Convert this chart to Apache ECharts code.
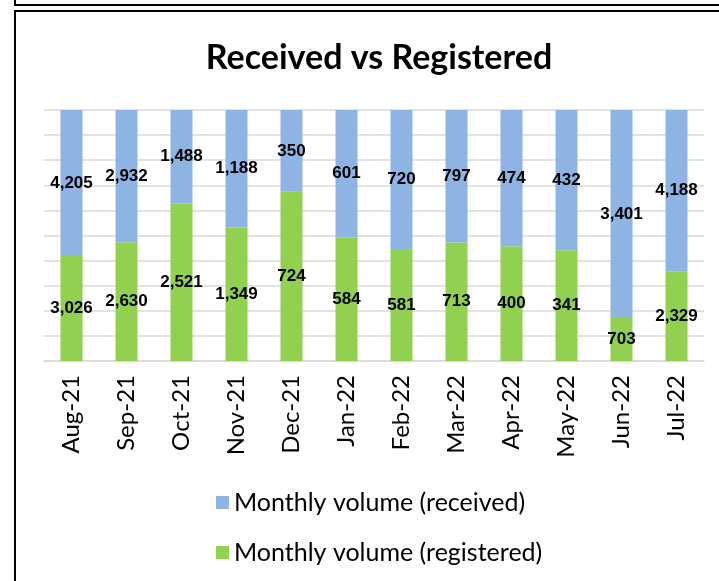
<!DOCTYPE html>
<html>
<head>
<meta charset="utf-8">
<script src="https://cdn.jsdelivr.net/npm/echarts@6/dist/echarts.min.js"></script>
<style>
  html, body { margin: 0; padding: 0; background: #fff; }
  #chart { width: 719px; height: 581px; }
</style>
</head>
<body>
<div id="chart"></div>
<script>
// -- Data --
const months = ['Aug-21', 'Sep-21', 'Oct-21', 'Nov-21', 'Dec-21', 'Jan-22',
  'Feb-22', 'Mar-22', 'Apr-22', 'May-22', 'Jun-22', 'Jul-22'];
const received = [4205, 2932, 1488, 1188, 350, 601, 720, 797, 474, 432, 3401, 4188];
const registered = [3026, 2630, 2521, 1349, 724, 584, 581, 713, 400, 341, 703, 2329];

const BLUE = '#8eb4e3';
const GREEN = '#92d050';

// 100% stacked: each bar is the share of the month's total
const share = (arr, i) => arr[i] / (received[i] + registered[i]);
const regShare = registered.map((v, i) => ({ value: share(registered, i), raw: v }));
const recShare = received.map((v, i) => ({ value: share(received, i), raw: v }));

const fmt = p => p.data.raw.toLocaleString('en-US');
const labelStyle = {
  show: true,
  position: 'inside',
  color: '#000',
  fontFamily: 'Liberation Sans',
  fontWeight: 'bold',
  fontSize: 17,
  formatter: fmt
};

const chart = echarts.init(document.getElementById('chart'), null, { renderer: 'canvas' });

chart.setOption({
  animation: false,
  title: {
    text: 'Received vs Registered',
    left: 374,
    textAlign: 'center',
    top: 36,
    textStyle: { fontFamily: 'Lato', fontWeight: 'bold', fontSize: 34, color: '#000' }
  },
  legend: {
    orient: 'vertical',
    left: 211,
    top: 485,
    itemWidth: 13,
    itemHeight: 13,
    itemGap: 25,
    icon: 'rect',
    textStyle: { fontFamily: 'Lato', fontSize: 25, color: '#000' },
    data: ['Monthly volume (received)', 'Monthly volume (registered)']
  },
  grid: { left: 44, right: 15, top: 110, bottom: 220 },
  xAxis: {
    type: 'category',
    data: months,
    axisLine: { lineStyle: { color: '#d9d9d9', width: 1.5 } },
    axisTick: { show: false },
    axisLabel: {
      rotate: 90,
      margin: 14,
      color: '#000',
      fontFamily: 'Lato',
      fontSize: 24
    }
  },
  yAxis: {
    type: 'value',
    min: 0,
    max: 1,
    interval: 0.1,
    axisLabel: { show: false },
    axisLine: { show: false },
    axisTick: { show: false },
    splitLine: { lineStyle: { color: '#d9d9d9', width: 1.5 } }
  },
  series: [
    {
      name: 'Monthly volume (registered)',
      type: 'bar',
      stack: 'total',
      barWidth: 22,
      itemStyle: { color: GREEN },
      label: labelStyle,
      data: regShare
    },
    {
      name: 'Monthly volume (received)',
      type: 'bar',
      stack: 'total',
      barWidth: 22,
      itemStyle: { color: BLUE },
      label: labelStyle,
      data: recShare
    }
  ],
  graphic: [
    {
      type: 'rect',
      shape: { x: 15, y: -100, width: 720, height: 105 },
      style: { fill: 'none', stroke: '#000', lineWidth: 2 }
    },
    {
      type: 'rect',
      shape: { x: 15, y: 11, width: 720, height: 600 },
      style: { fill: 'none', stroke: '#000', lineWidth: 2 }
    }
  ]
});

window.addEventListener('resize', () => chart.resize());
</script>
</body>
</html>
